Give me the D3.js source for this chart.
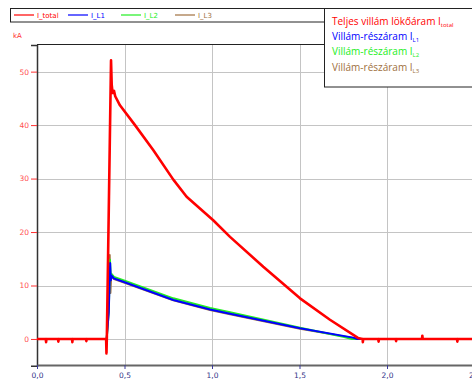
<!DOCTYPE html>
<html>
<head>
<meta charset="utf-8">
<script src="https://cdnjs.cloudflare.com/ajax/libs/d3/7.8.5/d3.min.js"></script>
<style>
  body { margin: 0; background: #fff; }
  svg { display: block; }
</style>
</head>
<body>
<div id="chart"></div>
<script>
var W = 472, H = 385;
var margin = { top: 44, left: 37 };

// time axis in ms, current in kA
var xTicks = [0, 0.5, 1.0, 1.5, 2.0, 2.5];
var yTicks = [0, 10, 20, 30, 40, 50];

var tTotal = [0, 0.05, 0.052, 0.054, 0.12, 0.122, 0.124, 0.2, 0.202, 0.204, 0.28, 0.282, 0.284, 0.35, 0.395, 0.397, 0.399,
  0.423, 0.427, 0.432, 0.44, 0.447, 0.474, 0.56, 0.665, 0.779, 0.855, 1.007, 1.103, 1.293, 1.503, 1.674, 1.834,
  1.86, 1.862, 1.864, 1.95, 1.952, 1.954, 2.05, 2.052, 2.054, 2.15, 2.2, 2.202, 2.204, 2.3, 2.4, 2.402, 2.404, 2.6];
var iTotal = [0, 0, -0.6, 0, 0, -0.5, 0, 0, -0.6, 0, 0, -0.4, 0, 0, 0, -2.7, 0,
  52.1, 47.5, 46.0, 46.4, 45.4, 43.7, 40.0, 35.3, 29.8, 26.6, 22.2, 19.1, 13.5, 7.6, 3.6, 0.2,
  0, -0.6, 0, 0, -0.5, 0, 0, -0.4, 0, 0, 0, 0.6, 0, 0, 0, -0.5, 0, 0];

var tL1 = [0, 0.398, 0.41, 0.418, 0.422, 0.428, 0.44, 0.493, 0.779, 0.989, 1.103, 1.503, 1.806, 1.83, 2.6];
var iL1 = [0, 0, 5.0, 14.2, 11.0, 11.8, 11.3, 10.7, 7.3, 5.5, 4.7, 2.0, 0.25, 0, 0];

var tL2 = [0, 0.398, 0.41, 0.417, 0.422, 0.428, 0.44, 0.493, 0.779, 0.989, 1.103, 1.503, 1.75, 1.8, 2.6];
var iL2 = [0, 0, 5.0, 14.8, 11.4, 12.1, 11.6, 11.0, 7.6, 5.8, 5.0, 2.1, 0.4, 0, 0];

var tL3 = [0, 0.398, 0.41, 0.416, 0.42, 0.424, 0.428, 0.44, 0.493, 0.779, 0.989, 1.103, 1.503, 1.806, 1.83, 2.6];
var iL3 = [0, 0, 6.0, 15.7, 8.6, 11.5, 11.6, 11.2, 10.6, 7.2, 5.4, 4.6, 1.9, 0.2, 0, 0];

var seriesNames = ['I_total', 'I_L1', 'I_L2', 'I_L3'];
var seriesColors = ['#ff0000', '#0000ff', '#22ee22', '#a07040'];
var legendLabels = ['Teljes villám lökőáram I', 'Villám-részáram I', 'Villám-részáram I', 'Villám-részáram I'];
var legendSubs = ['total', 'L1', 'L2', 'L3'];

function zip(ts, vs) {
    return ts.map(function (t, i) { return { t: t, v: vs[i] }; });
}

var x = d3.scaleLinear().domain([0, 2.5]).range([margin.left, margin.left + 175 * 2.5]);
var y = d3.scaleLinear().domain([-5, 55]).range([365.7, 44.9]);

var svg = d3.select("#chart").append("svg")
    .attr("width", W)
    .attr("height", H);

// grid
svg.append("g").selectAll("line.vg")
    .data(xTicks.slice(1))
    .enter().append("line")
    .attr("x1", function (d) { return Math.round(x(d)) + 0.5; })
    .attr("x2", function (d) { return Math.round(x(d)) + 0.5; })
    .attr("y1", 44).attr("y2", 365)
    .attr("stroke", "#c4c4c4").attr("stroke-width", 1);

svg.append("g").selectAll("line.hg")
    .data(yTicks)
    .enter().append("line")
    .attr("x1", margin.left).attr("x2", W)
    .attr("y1", function (d) { return Math.round(y(d)) + 0.5; })
    .attr("y2", function (d) { return Math.round(y(d)) + 0.5; })
    .attr("stroke", "#c4c4c4").attr("stroke-width", 1);

// frame
svg.append("line").attr("x1", margin.left).attr("x2", W).attr("y1", 44.5).attr("y2", 44.5)
    .attr("stroke", "#222").attr("stroke-width", 1);

var yAxis = d3.axisLeft(y).tickValues(yTicks).tickSize(6).tickFormat(d3.format("d"));
var gy = svg.append("g")
    .attr("transform", "translate(" + margin.left + ",0)")
    .call(yAxis);
gy.select(".domain").attr("stroke", "#333").attr("stroke-width", 1.5);
gy.selectAll(".tick line").attr("stroke", "#ff3030");
gy.selectAll(".tick text")
    .attr("fill", "#ff5050")
    .style("font-family", "DejaVu Sans")
    .style("font-size", "7.5px")
    .attr("x", -8);

var xAxis = d3.axisBottom(x).tickValues(xTicks).tickSize(4).tickSizeOuter(0)
    .tickFormat(function (d) { return d3.format(".1f")(d).replace(".", ","); });
var gx = svg.append("g")
    .attr("transform", "translate(0,365)")
    .call(xAxis);
gx.select(".domain").attr("stroke", "#666").attr("stroke-width", 2);
gx.selectAll(".tick line").attr("stroke", "#3a3a99");
gx.selectAll(".tick text")
    .attr("fill", "#333388")
    .attr("y", 8)
    .style("font-family", "DejaVu Sans")
    .style("font-size", "7.5px");

svg.append("text").attr("x", 13).attr("y", 38)
    .attr("fill", "#ff3030")
    .style("font-family", "DejaVu Sans")
    .style("font-size", "7px")
    .text("kA");

// curves
var line = d3.line()
    .x(function (d) { return x(d.t); })
    .y(function (d) { return y(d.v); });

var plot = [
    { data: zip(tL3, iL3), color: seriesColors[3], w: 1.8 },
    { data: zip(tL2, iL2), color: seriesColors[2], w: 2 },
    { data: zip(tL1, iL1), color: seriesColors[1], w: 2 },
    { data: zip(tTotal, iTotal), color: seriesColors[0], w: 2.6 }
];
svg.append("g").selectAll("path.curve")
    .data(plot)
    .enter().append("path")
    .attr("class", "curve")
    .attr("d", function (d) { return line(d.data); })
    .attr("fill", "none")
    .attr("stroke", function (d) { return d.color; })
    .attr("stroke-width", function (d) { return d.w; })
    .attr("stroke-linejoin", "round");

// top legend box
svg.append("rect").attr("x", 10.5).attr("y", 8.5).attr("width", 314).attr("height", 13.5)
    .attr("fill", "#fff").attr("stroke", "#222");
var lgX = [14, 68, 121, 175];
var lg = svg.append("g").selectAll("g")
    .data(seriesNames)
    .enter().append("g")
    .attr("transform", function (d, i) { return "translate(" + lgX[i] + ",15)"; });
lg.append("line").attr("x1", 0).attr("x2", 20)
    .attr("stroke", function (d, i) { return seriesColors[i]; }).attr("stroke-width", 1.2);
lg.append("text").attr("x", 23).attr("y", 2.5)
    .attr("fill", function (d, i) { return seriesColors[i]; })
    .style("font-family", "DejaVu Sans")
    .style("font-size", "7px")
    .text(function (d) { return d; });

// right legend box
svg.append("rect").attr("x", 324.5).attr("y", 8.5).attr("width", 160).attr("height", 78.5)
    .attr("fill", "#fff").attr("stroke", "#222");
var rl = svg.append("g").selectAll("text")
    .data(legendLabels)
    .enter().append("text")
    .attr("x", 332)
    .attr("y", function (d, i) { return 25 + i * 15.2; })
    .attr("fill", function (d, i) { return seriesColors[i]; })
    .style("font-family", "Open Sans")
    .style("font-size", "10px");
rl.append("tspan").text(function (d) { return d; });
rl.append("tspan").attr("dy", 2).style("font-size", "6px").text(function (d, i) { return legendSubs[i]; });
</script>
</body>
</html>
